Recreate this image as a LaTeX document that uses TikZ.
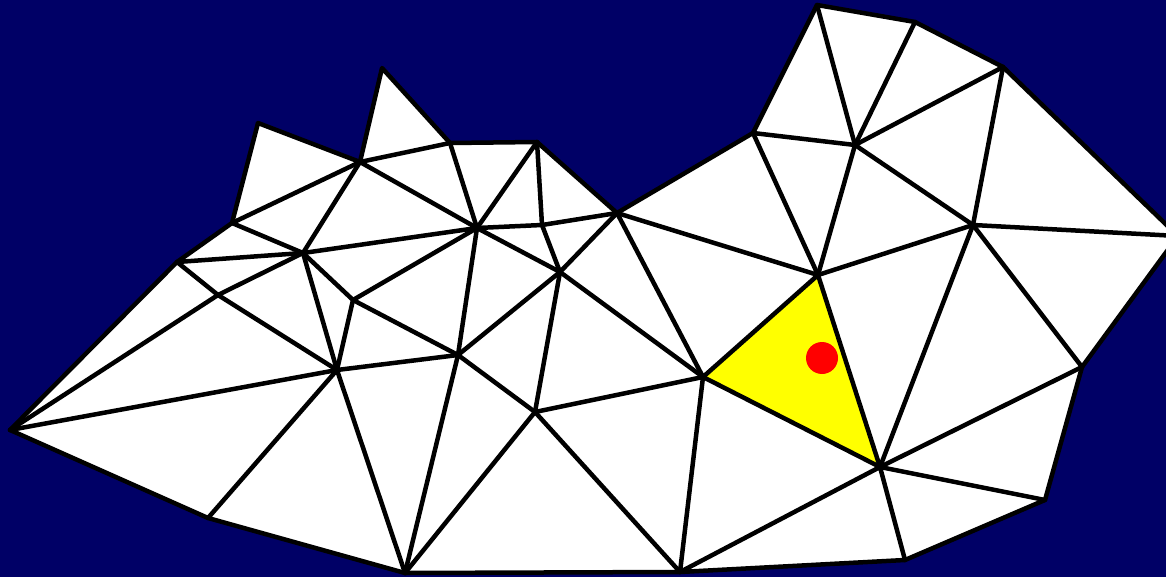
\documentclass[tikz,border=0pt]{standalone}
\definecolor{meshNavy}{HTML}{000066}
\definecolor{meshYellow}{HTML}{FFFF00}
\definecolor{meshRed}{HTML}{FF0000}
\usetikzlibrary{calc}
\tikzset{
    mesh region/.style={fill=white, draw=black, line width=4.5pt, line join=round},
    mesh edge/.style={draw=black, line width=4.5pt, line cap=round},
    hit cell/.style={fill=meshYellow},
    mesh vertex/.style={circle, fill=black, minimum size=8pt, inner sep=0pt},
    query point/.style={circle, fill=meshRed, minimum size=32pt, inner sep=0pt},
}
\begin{document}
\begin{tikzpicture}[x=1pt, y=-1pt]
    \useasboundingbox (0,0) rectangle (1166,577);
    \clip (0,0) rectangle (1166,577);
    \fill[meshNavy] (0,0) rectangle (1166,577);

    % outline of the domain
    \coordinate (tip) at (10,430);
    \coordinate (bLa) at (177,262);
    \coordinate (bLb) at (232,223);
    \coordinate (bLc) at (258,123);
    \coordinate (bLd) at (360,162);
    \coordinate (bLe) at (382,68);
    \coordinate (bLf) at (450,143);
    \coordinate (bLg) at (537,142);
    \coordinate (bLh) at (617,213);
    \coordinate (bLi) at (753,133);
    \coordinate (bT) at (817,5);
    \coordinate (bTa) at (915,22);
    \coordinate (bTb) at (1003,67);
    \coordinate (bR) at (1178,236);
    \coordinate (bRa) at (1082,367);
    \coordinate (bRb) at (1045,500);
    \coordinate (bB) at (905,560);
    \coordinate (bBa) at (680,572);
    \coordinate (bBb) at (405,573);
    \coordinate (bBc) at (208,518);

    % inner vertices
    \coordinate (i1) at (218,295);
    \coordinate (i2) at (303,253);
    \coordinate (i3) at (353,300);
    \coordinate (i4) at (337,370);
    \coordinate (i5) at (477,228);
    \coordinate (i6) at (542,225);
    \coordinate (i7) at (560,272);
    \coordinate (i8) at (458,355);
    \coordinate (i9) at (535,412);
    \coordinate (i10) at (703,377);
    \coordinate (i11) at (818,275);
    \coordinate (i12) at (880,467);
    \coordinate (i13) at (855,145);
    \coordinate (i14) at (973,225);

    \draw[mesh region] (tip) -- (bLa) -- (bLb) -- (bLc) -- (bLd) -- (bLe) -- (bLf)
        -- (bLg) -- (bLh) -- (bLi) -- (bT) -- (bTa) -- (bTb) -- (bR) -- (bRa)
        -- (bRb) -- (bB) -- (bBa) -- (bBb) -- (bBc) -- cycle;

    \fill[hit cell] (i10) -- (i11) -- (i12) -- cycle;

    % left part
    \draw[mesh edge] (bLa) -- (i1);
    \draw[mesh edge] (bLa) -- (i2);
    \draw[mesh edge] (bLb) -- (i2);
    \draw[mesh edge] (bLb) -- (bLd);
    \draw[mesh edge] (tip) -- (i1);
    \draw[mesh edge] (tip) -- (i4);
    \draw[mesh edge] (i1) -- (i2);
    \draw[mesh edge] (i1) -- (i4);
    \draw[mesh edge] (i2) -- (bLd);
    \draw[mesh edge] (i2) -- (i5);
    \draw[mesh edge] (i2) -- (i3);
    \draw[mesh edge] (i2) -- (i4);
    \draw[mesh edge] (i3) -- (i5);
    \draw[mesh edge] (i3) -- (i8);
    \draw[mesh edge] (i3) -- (i4);
    \draw[mesh edge] (i4) -- (i8);
    \draw[mesh edge] (i4) -- (bBc);
    \draw[mesh edge] (i4) -- (bBb);

    % middle part
    \draw[mesh edge] (bLd) -- (bLf);
    \draw[mesh edge] (bLd) -- (i5);
    \draw[mesh edge] (bLf) -- (i5);
    \draw[mesh edge] (bLg) -- (i5);
    \draw[mesh edge] (bLg) -- (i6);
    \draw[mesh edge] (i5) -- (i6);
    \draw[mesh edge] (i6) -- (bLh);
    \draw[mesh edge] (i6) -- (i7);
    \draw[mesh edge] (i5) -- (i7);
    \draw[mesh edge] (i5) -- (i8);
    \draw[mesh edge] (bLh) -- (i7);
    \draw[mesh edge] (i7) -- (i8);
    \draw[mesh edge] (i7) -- (i9);
    \draw[mesh edge] (i7) -- (i10);
    \draw[mesh edge] (bLh) -- (i10);
    \draw[mesh edge] (i8) -- (bBb);
    \draw[mesh edge] (i8) -- (i9);
    \draw[mesh edge] (i9) -- (bBb);
    \draw[mesh edge] (i9) -- (bBa);
    \draw[mesh edge] (i9) -- (i10);
    \draw[mesh edge] (i10) -- (bBa);

    % right part
    \draw[mesh edge] (bLh) -- (i11);
    \draw[mesh edge] (i10) -- (i11);
    \draw[mesh edge] (i11) -- (i12);
    \draw[mesh edge] (i10) -- (i12);
    \draw[mesh edge] (i12) -- (bBa);
    \draw[mesh edge] (i12) -- (bB);
    \draw[mesh edge] (i12) -- (bRb);
    \draw[mesh edge] (i12) -- (bRa);
    \draw[mesh edge] (i12) -- (i14);
    \draw[mesh edge] (i11) -- (i14);
    \draw[mesh edge] (i14) -- (bRa);
    \draw[mesh edge] (i14) -- (bR);
    \draw[mesh edge] (i13) -- (i14);
    \draw[mesh edge] (i13) -- (i11);
    \draw[mesh edge] (bLi) -- (i11);
    \draw[mesh edge] (bLi) -- (i13);
    \draw[mesh edge] (bT) -- (i13);
    \draw[mesh edge] (bTa) -- (i13);
    \draw[mesh edge] (bTb) -- (i13);
    \draw[mesh edge] (bTb) -- (i14);

    \node[mesh vertex] (v4) at (i4) {};
    \node[mesh vertex] (v8) at (i8) {};
    \node[mesh vertex] (v12) at (i12) {};
    \node[mesh vertex] (v10) at (i10) {};

    \node[query point] (pt) at (822,358) {};
\end{tikzpicture}
\end{document}
